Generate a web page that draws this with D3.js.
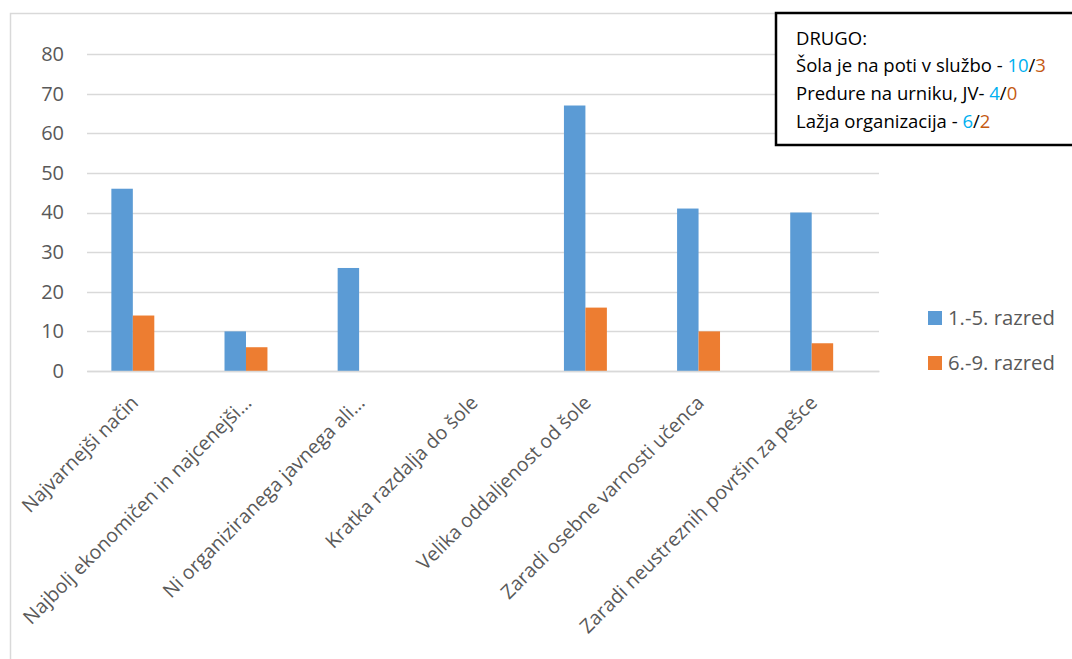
<!DOCTYPE html>
<html>
<head>
<meta charset="utf-8">
<script src="https://cdn.jsdelivr.net/npm/d3@7"></script>
<style>
  html, body { margin: 0; padding: 0; background: #fff; }
  svg { display: block; font-family: "Open Sans", Lato, sans-serif; }
</style>
</head>
<body>
<svg id="chart" width="1072" height="659"></svg>
<script>
// ---- data ----
const categories = [
  "Najvarnejši način",
  "Najbolj ekonomičen in najcenejši…",
  "Ni organiziranega javnega ali…",
  "Kratka razdalja do šole",
  "Velika oddaljenost od šole",
  "Zaradi osebne varnosti učenca",
  "Zaradi neustreznih površin za pešce"
];
const seriesNames = ["1.-5. razred", "6.-9. razred"];
const series1 = [46, 10, 26, 0, 67, 41, 40];
const series2 = [14, 6, 0, 0, 16, 10, 7];
const yTicks = [0, 10, 20, 30, 40, 50, 60, 70, 80];
const noteTitle = "DRUGO:";
const noteLines = [
  ["Šola je na poti v službo - ", "10", "3"],
  ["Predure na urniku, JV- ", "4", "0"],
  ["Lažja organizacija - ", "6", "2"]
];

const colors = ["#5b9bd5", "#ed7d31"];
const FONT = "'Open Sans', Lato, sans-serif";
const svg = d3.select("#chart");

// outer chart frame
svg.append("rect").attr("x", 10.5).attr("y", 13.5).attr("width", 1100).attr("height", 700)
  .attr("fill", "#fff").attr("stroke", "#d9d9d9").attr("stroke-width", 1.5);

const plot = {left: 87, right: 879, top: 54, bottom: 371};
const y = d3.scaleLinear().domain([0, 80]).range([plot.bottom, plot.top]);
const x0 = d3.scaleBand().domain(categories).range([plot.left, plot.right]).padding(0);
// three slots per group (third slot empty, as in the source chart)
const slots = ["s1", "s2", "s3"];
const x1 = d3.scaleBand().domain(slots).range([0, x0.bandwidth()]).paddingInner(0).paddingOuter(1.135);

// gridlines
const grid = svg.append("g");
grid.selectAll("line").data(yTicks).join("line")
  .attr("x1", plot.left).attr("x2", plot.right)
  .attr("y1", d => Math.round(y(d)) + 0.5).attr("y2", d => Math.round(y(d)) + 0.5)
  .attr("stroke", "#d9d9d9").attr("stroke-width", 1.5);

// y axis labels
const yAxis = d3.axisLeft(y).tickValues(yTicks).tickSize(0).tickPadding(0);
const yg = svg.append("g").attr("transform", `translate(64,0)`).call(yAxis);
yg.select(".domain").remove();
yg.selectAll("text").attr("font-size", 20).attr("fill", "#595959").attr("font-family", FONT);

// bars
const allSeries = [series1, series2];
allSeries.forEach((vals, si) => {
  svg.append("g").selectAll("rect").data(vals).join("rect")
    .attr("x", (d, i) => x0(categories[i]) + x1(slots[si]))
    .attr("width", x1.bandwidth())
    .attr("y", d => y(d))
    .attr("height", d => y(0) - y(d))
    .attr("fill", colors[si]);
});

// x axis
const xAxis = d3.axisBottom(x0).tickSize(0).tickPadding(0);
const xg = svg.append("g").attr("transform", `translate(0,${plot.bottom})`).call(xAxis);
xg.select(".domain").attr("stroke", "#d9d9d9").attr("stroke-width", 1.5);
xg.selectAll("text")
  .attr("font-size", 19.5).attr("fill", "#595959").attr("font-family", FONT)
  .attr("text-anchor", "end")
  .attr("dy", null)
  .attr("transform", "translate(-4,33) rotate(-45)");

// legend
const lg = svg.append("g");
seriesNames.forEach((name, i) => {
  const ly = 318 + i * 45;
  lg.append("rect").attr("x", 928).attr("y", ly - 7).attr("width", 14).attr("height", 14).attr("fill", colors[i]);
  lg.append("text").attr("x", 948).attr("y", ly + 7).attr("font-size", 20.3).attr("fill", "#595959")
    .attr("font-family", FONT).text(name);
});

// note box
const nb = svg.append("g");
nb.append("rect").attr("x", 776).attr("y", 13).attr("width", 300).attr("height", 132)
  .attr("fill", "#fff").attr("stroke", "#000").attr("stroke-width", 2.5);
nb.append("text").attr("x", 796).attr("y", 45).attr("font-size", 18.5).attr("fill", "#000")
  .attr("font-family", FONT).text(noteTitle);
noteLines.forEach((ln, i) => {
  const t = nb.append("text").attr("x", 796).attr("y", 72 + i * 28).attr("font-size", 18.5)
    .attr("fill", "#000").attr("font-family", FONT);
  t.append("tspan").text(ln[0]);
  t.append("tspan").attr("fill", "#00b0f0").text(ln[1]);
  t.append("tspan").text("/");
  t.append("tspan").attr("fill", "#c55a11").text(ln[2]);
});
</script>
</body>
</html>
